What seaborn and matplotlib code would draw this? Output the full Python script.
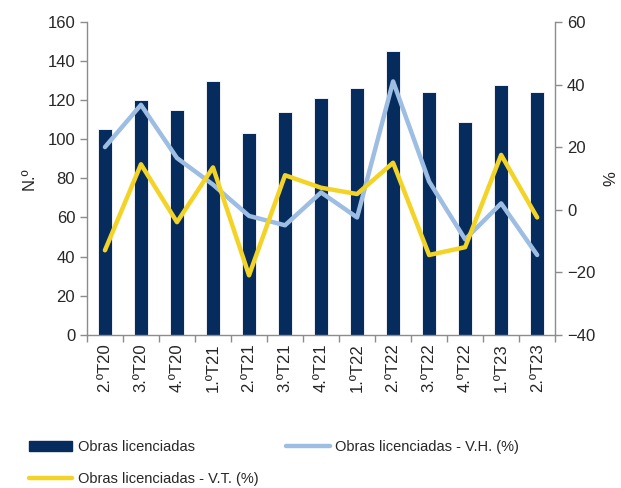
import numpy as np
import pandas as pd
import matplotlib
matplotlib.use("Agg")
import matplotlib.pyplot as plt
from matplotlib.patches import Patch
from matplotlib.lines import Line2D
import seaborn as sns

sns.set_style("white")
plt.rcParams["font.family"] = ["Liberation Sans", "DejaVu Sans"]

quarters = ["2.ºT20", "3.ºT20", "4.ºT20", "1.ºT21", "2.ºT21", "3.ºT21", "4.ºT21",
            "1.ºT22", "2.ºT22", "3.ºT22", "4.ºT22", "1.ºT23", "2.ºT23"]
obras = [105, 120, 115, 130, 103, 114, 121, 126, 145, 124, 109, 128, 124]
var_homologa = [20, 33.5, 16.5, 8, -2, -5, 5.5, -2.5, 41, 9, -9.5, 2, -14.5]
var_trimestral = [-13, 14.5, -4, 13.5, -21, 11, 7, 5, 15, -14.5, -12, 17.5, -2.5]

BAR = "#052c5c"
VH = "#9dbde3"
VT = "#f3d426"
GREY = "#8c8c8c"

df = pd.DataFrame({"q": quarters, "obras": obras,
                   "vh": var_homologa, "vt": var_trimestral})
df["pos"] = np.arange(len(df))

fig = plt.figure(figsize=(6.21, 4.88), dpi=100)
ax = fig.add_axes([0.140, 0.314, 0.754, 0.641])

sns.barplot(data=df, x="q", y="obras", color=BAR, width=0.4, saturation=1,
            edgecolor="white", linewidth=0.6, ax=ax)
ax.set_ylim(0, 160)
ax.set_yticks(range(0, 161, 20))
ax.set_xlim(-0.5, len(df) - 0.5)
ax.set_xlabel("")
ax.set_ylabel("N.º", fontsize=12, labelpad=8)

ax2 = ax.twinx()
sns.lineplot(data=df, x="pos", y="vh", color=VH, linewidth=3.2, ax=ax2)
sns.lineplot(data=df, x="pos", y="vt", color=VT, linewidth=3.2, ax=ax2)
ax2.set_ylim(-40, 60)
ax2.set_yticks(range(-40, 61, 20))
ax2.set_xlim(-0.5, len(df) - 0.5)
ax2.set_ylabel("%", fontsize=12, labelpad=6)
ax2.set_xlabel("")

# x ticks: labels at bars, tick marks between categories
ax.set_xticks(df["pos"])
ax.set_xticklabels(quarters, rotation=90, fontsize=12)
ax.set_xticks(np.arange(-0.5, len(df), 1), minor=True)
ax.tick_params(axis="x", which="major", length=0, pad=6)
ax.tick_params(axis="x", which="minor", length=5, color=GREY, width=1)
ax.tick_params(axis="y", length=5, color=GREY, width=1, labelsize=12, direction="out")
ax2.tick_params(axis="y", length=5, color=GREY, width=1, labelsize=12, direction="out")
ax.yaxis.set_ticks_position("left")
ax.xaxis.set_ticks_position("bottom")

for a in (ax, ax2):
    a.spines["top"].set_visible(False)
    for s in ("left", "right", "bottom"):
        a.spines[s].set_color(GREY)
        a.spines[s].set_linewidth(1)
ax.spines["right"].set_visible(False)
ax2.spines["left"].set_visible(False)
ax2.spines["bottom"].set_visible(False)

handles = [Patch(facecolor=BAR, edgecolor=BAR),
           Line2D([], [], color=VT, linewidth=3.2),
           Line2D([], [], color=VH, linewidth=3.2)]
labels = ["Obras licenciadas", "Obras licenciadas - V.T. (%)",
          "Obras licenciadas - V.H. (%)"]
fig.legend(handles, labels, ncol=2, loc="lower left", bbox_to_anchor=(0.025, -0.022),
           frameon=False, fontsize=10.5, handlelength=3.0, handleheight=0.6,
           handletextpad=0.35, columnspacing=1.9, labelspacing=1.2)

fig.savefig("out.png", dpi=100)
